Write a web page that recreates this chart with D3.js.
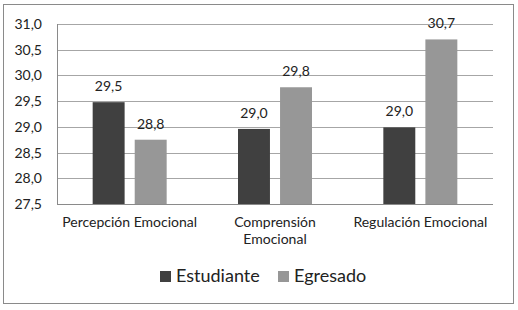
<!DOCTYPE html>
<html>
<head>
<meta charset="utf-8">
<script src="https://cdn.jsdelivr.net/npm/d3@7"></script>
<style>
  body { margin: 0; background: #fff; }
  svg text { font-family: Lato, "Open Sans", sans-serif; fill: #222; }
</style>
</head>
<body>
<div id="chart"></div>
<script>
const categories = [["Percepción Emocional"], ["Comprensión", "Emocional"], ["Regulación Emocional"]];
const seriesNames = ["Estudiante", "Egresado"];
const estudiante = [29.48, 28.96, 28.99];
const egresado = [28.75, 29.77, 30.70];
const yTicks = [27.5, 28.0, 28.5, 29.0, 29.5, 30.0, 30.5, 31.0];
const colors = ["#404040", "#979797"];

const W = 518, H = 310;
const margin = { top: 24, right: 25, bottom: 106, left: 57 };
const width = W - margin.left - margin.right;
const height = H - margin.top - margin.bottom;

const svg = d3.select("#chart").append("svg")
    .attr("width", W)
    .attr("height", H);

// outer frame
svg.append("rect")
    .attr("x", 3.5).attr("y", 4.5)
    .attr("width", 510).attr("height", 299)
    .attr("fill", "#fff")
    .attr("stroke", "#8a8a8a");

const g = svg.append("g").attr("transform", `translate(${margin.left},${margin.top})`);

const x0 = d3.scaleBand().domain(d3.range(categories.length)).range([0, width]);
const x1 = d3.scaleBand().domain(d3.range(seriesNames.length))
    .range([x0.bandwidth() / 2 - 37, x0.bandwidth() / 2 + 37]).paddingInner(0.24);
const y = d3.scaleLinear().domain([27.5, 31]).range([height, 0]);

const fmt = v => d3.format(".1f")(v).replace(".", ",");

// gridlines
g.selectAll(".grid").data(yTicks).join("line")
    .attr("x1", 0).attr("x2", width)
    .attr("y1", d => Math.round(y(d)) + 0.5).attr("y2", d => Math.round(y(d)) + 0.5)
    .attr("stroke", "#a6a6a6");

// y axis
const yAxis = g.append("g")
    .call(d3.axisLeft(y).tickValues(yTicks).tickFormat(fmt).tickSize(0).tickPadding(15));
yAxis.select(".domain").remove();
yAxis.selectAll("text").style("font-size", "14px").style("font-family", "Lato, sans-serif").attr("fill", "#222");

g.append("line")
    .attr("x1", 0.5).attr("x2", 0.5).attr("y1", 0).attr("y2", height)
    .attr("stroke", "#8a8a8a");

const data = categories.map((c, i) => ({ i, vals: [estudiante[i], egresado[i]] }));

const groups = g.selectAll(".grp").data(data).join("g")
    .attr("transform", d => `translate(${x0(d.i)},0)`);

groups.selectAll("rect").data(d => d.vals.map((v, s) => ({ v, s }))).join("rect")
    .attr("x", d => x1(d.s))
    .attr("width", x1.bandwidth())
    .attr("y", d => y(d.v))
    .attr("height", d => height - y(d.v))
    .attr("fill", d => colors[d.s]);

groups.selectAll(".val").data(d => d.vals.map((v, s) => ({ v, s }))).join("text")
    .attr("x", d => x1(d.s) + x1.bandwidth() / 2)
    .attr("y", d => y(d.v) - 11)
    .attr("text-anchor", "middle")
    .style("font-size", "14px")
    .text(d => fmt(d.v));

// bottom axis line
g.append("line")
    .attr("x1", 0).attr("x2", width)
    .attr("y1", height + 0.5).attr("y2", height + 0.5)
    .attr("stroke", "#8a8a8a");

// category labels
groups.each(function(d) {
    const t = d3.select(this).append("text")
        .attr("text-anchor", "middle")
        .attr("x", x0.bandwidth() / 2)
        .attr("y", height + 23)
        .style("font-size", "14px");
    categories[d.i].forEach((line, k) => {
        t.append("tspan").attr("x", x0.bandwidth() / 2).attr("dy", k === 0 ? 0 : 17).text(line);
    });
});

// legend
const legendX = [160, 278];
const legend = svg.selectAll(".leg").data(seriesNames).join("g")
    .attr("transform", (d, i) => `translate(${legendX[i]},271)`);
legend.append("rect").attr("width", 11).attr("height", 11).attr("fill", (d, i) => colors[i]);
legend.append("text")
    .attr("x", 16).attr("y", 11)
    .style("font-size", "18px")
    .text(d => d);
</script>
</body>
</html>
